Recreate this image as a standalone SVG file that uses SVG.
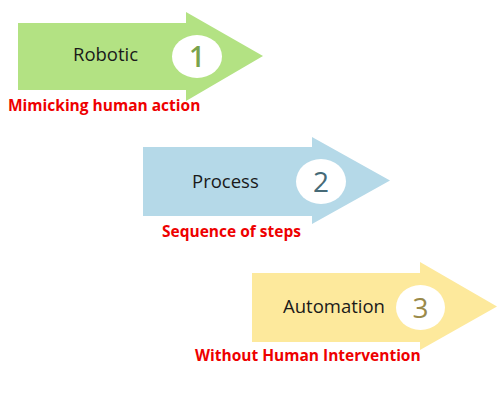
<svg xmlns="http://www.w3.org/2000/svg" width="500" height="400" viewBox="0 0 500 400">
<style>
.lbl{font-family:"Open Sans","Liberation Sans",sans-serif;font-size:18.5px;fill:#1a1a1a}
.num{font-family:"Open Sans","Liberation Sans",sans-serif;font-size:28px;text-anchor:middle}
.sub{font-family:"Open Sans","Liberation Sans",sans-serif;font-size:15.5px;font-weight:bold;fill:#ee0000}
.badge{fill:#ffffff}
</style>
<rect width="500" height="400" fill="#ffffff"/>
<g id="robotic">
<polygon points="18,23 186,23 186,12 263,56 186,101 186,90 18,90" fill="#b3e283"/>
<ellipse class="badge" cx="197" cy="56.5" rx="25" ry="21.5"/>
<text class="lbl" x="73" y="61">Robotic</text>
<text class="num" x="197" y="66.5" fill="#7aa24c" font-weight="600">1</text>
<text class="sub" x="8" y="111">Mimicking human action</text>
</g>
<g id="process">
<polygon points="143,147 312,147 312,137 390,180.5 312,224 312,216 143,216" fill="#b5d9e8"/>
<ellipse class="badge" cx="321" cy="181.5" rx="25" ry="22.5"/>
<text class="lbl" x="192" y="188">Process</text>
<text class="num" x="321" y="191.5" fill="#466a77">2</text>
<text class="sub" x="162" y="237">Sequence of steps</text>
</g>
<g id="automation">
<polygon points="252,273 420,273 420,262 497,306.5 420,350 420,342 252,342" fill="#fde99c"/>
<ellipse class="badge" cx="420.5" cy="307.5" rx="24.5" ry="22.5"/>
<text class="lbl" x="283" y="313">Automation</text>
<text class="num" x="420.5" y="318" fill="#9a8a4a">3</text>
<text class="sub" x="195" y="361">Without Human Intervention</text>
</g>
</svg>
